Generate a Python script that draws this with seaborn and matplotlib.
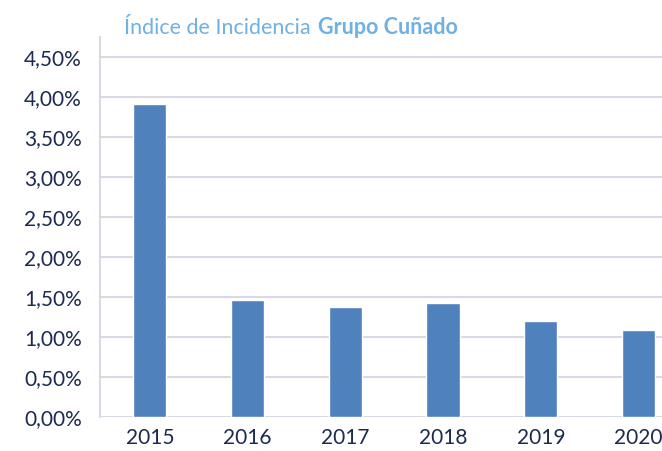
import matplotlib
matplotlib.use("Agg")
import matplotlib.pyplot as plt
import seaborn as sns
import pandas as pd
from matplotlib.ticker import FuncFormatter

years = ["2015", "2016", "2017", "2018", "2019", "2020"]
values = [3.91, 1.46, 1.38, 1.43, 1.20, 1.09]  # percent
yticks = [0, 0.5, 1.0, 1.5, 2.0, 2.5, 3.0, 3.5, 4.0, 4.5]

df = pd.DataFrame({"year": years, "value": values})

sns.set_theme(style="white")
plt.rcParams["font.family"] = ["Lato", "DejaVu Sans"]

W, H = 662, 451
fig = plt.figure(figsize=(W / 100, H / 100), dpi=100)
ax = fig.add_axes([100 / W, 1 - 417 / H, 1 - 100 / W, (417 - 37) / H])

sns.barplot(data=df, x="year", y="value", color="#4F81BD", width=0.34,
            saturation=1, ax=ax, zorder=3)

ax.set_ylim(0, 4.75)
ax.set_xlim(-0.51, 5.24)
ax.set_yticks(yticks)
ax.yaxis.set_major_formatter(FuncFormatter(lambda v, p: f"{v:.2f}%".replace(".", ",")))
ax.grid(axis="y", color="#D9D9E6", linewidth=1.5, zorder=0)
ax.grid(axis="x", visible=False)
for s in ["top", "right", "bottom"]:
    ax.spines[s].set_visible(False)
ax.spines["left"].set_color("#D9D9E6")
ax.spines["left"].set_linewidth(1.5)
ax.set_xlabel("")
ax.set_ylabel("")
ax.tick_params(axis="both", length=0, labelsize=15, labelcolor="#1B2A4E")
ax.tick_params(axis="y", pad=13)
ax.tick_params(axis="x", pad=8)

tcol = "#6FB1E3"
fig.text(311 / W, 1 - 28 / H, "Índice de Incidencia", ha="right", va="center",
         fontsize=15.5, color=tcol)
fig.text(318 / W, 1 - 28 / H, "Grupo Cuñado", ha="left", va="center",
         fontsize=15.5, color=tcol, fontweight="bold")

fig.savefig("out.png", dpi=100)
